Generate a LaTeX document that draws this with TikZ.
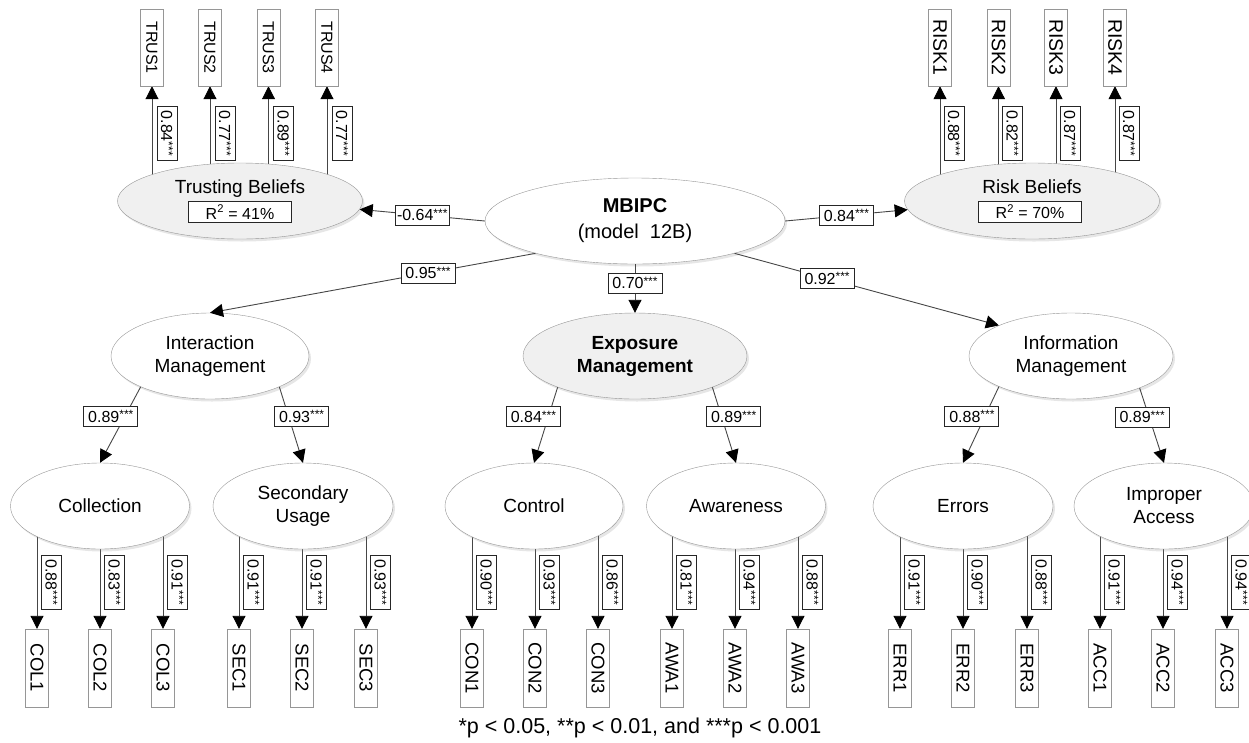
\documentclass[tikz,border=0pt]{standalone}
\usepackage{fontspec}
\setmainfont{Liberation Sans}
\usetikzlibrary{shapes.geometric, arrows.meta, positioning, shadows, backgrounds}
\definecolor{latgray}{RGB}{240,240,240}
\definecolor{edgegray}{RGB}{70,70,70}
\definecolor{boxgray}{RGB}{150,150,150}
\newcommand{\sig}[1]{#1\raisebox{3.5pt}{\fontsize{12}{12}\selectfont ***}}
\newcommand{\vsig}[1]{\rotatebox{-90}{\sig{#1}}}
\newcommand{\vtxt}[1]{\rotatebox{-90}{#1}}

\begin{document}
\begin{tikzpicture}[x=1pt, y=-1pt,
    latent/.style={ellipse, draw=boxgray, fill=white, inner sep=0pt, minimum height=86pt,
                   align=center, font=\fontsize{19}{23}\selectfont,
                   drop shadow={shadow xshift=2pt, shadow yshift=-2.5pt, opacity=0.2}},
    item/.style={rectangle, draw=boxgray, fill=white, inner sep=0pt, minimum width=23pt,
                 minimum height=78pt, font=\fontsize{18.5}{19}\selectfont},
    topitem/.style={item, minimum height=77pt},
    coef/.style={rectangle, draw=black!85, fill=white, inner sep=0pt, minimum width=54pt,
                 minimum height=20pt, font=\fontsize{16}{17}\selectfont},
    vcoef/.style={coef, minimum width=20pt, minimum height=54pt},
    r2box/.style={rectangle, draw=black!85, fill=white, inner sep=0pt, minimum width=103pt,
                  minimum height=21pt, font=\fontsize{16}{17}\selectfont},
    arrow/.style={draw=edgegray, line width=0.9pt, -{Triangle[length=13pt, width=13pt, color=black]}}]

\useasboundingbox (0,0) rectangle (1249,742);

% latent variables
\node (mbipc) [latent, minimum width=300pt, font=\fontsize{20}{26}\selectfont] at (635,221) {\textbf{MBIPC}\\(model\ \ 12B)};
\node (trust) [latent, fill=latgray, minimum width=245pt, minimum height=76pt] at (240,201) {Trusting Beliefs\\[6pt]\mbox{}};
\node (risk)  [latent, fill=latgray, minimum width=255pt, minimum height=76pt] at (1032,201) {Risk Beliefs\\[6pt]\mbox{}};
\node (r2trust) [r2box] at (240,212) {R\textsuperscript{2} = 41\%};
\node (r2risk)  [r2box] at (1030,212) {R\textsuperscript{2} = 70\%};

\node (inter) [latent, minimum width=198pt] at (210,356) {Interaction\\Management};
\node (expo)  [latent, fill=latgray, minimum width=224pt, font=\bfseries\fontsize{19}{23}\selectfont] at (635,356) {Exposure\\Management};
\node (info)  [latent, minimum width=204pt] at (1071,356) {Information\\Management};

\node (coll) [latent, minimum width=179pt] at (100,506)  {Collection};
\node (secu) [latent, minimum width=180pt] at (303,506)  {Secondary\\Usage};
\node (ctrl) [latent, minimum width=178pt] at (534,506)  {Control};
\node (awar) [latent, minimum width=179pt] at (736,506)  {Awareness};
\node (errs) [latent, minimum width=180pt] at (963,506)  {Errors};
\node (impr) [latent, minimum width=180pt] at (1164,506) {Improper\\Access};

% indicators
\node (trus1) [topitem, font=\fontsize{16}{16}\selectfont] at (152,47.5)   {\vtxt{TRUS1}};
\node (trus2) [topitem, font=\fontsize{16}{16}\selectfont] at (210,47.5)   {\vtxt{TRUS2}};
\node (trus3) [topitem, font=\fontsize{16}{16}\selectfont] at (268.5,47.5) {\vtxt{TRUS3}};
\node (trus4) [topitem, font=\fontsize{16}{16}\selectfont] at (327,47.5)   {\vtxt{TRUS4}};
\node (risk1) [topitem, font=\fontsize{19.5}{20}\selectfont] at (940,47.5)   {\vtxt{RISK1}};
\node (risk2) [topitem, font=\fontsize{19.5}{20}\selectfont] at (998.5,47.5) {\vtxt{RISK2}};
\node (risk3) [topitem, font=\fontsize{19.5}{20}\selectfont] at (1056,47.5)  {\vtxt{RISK3}};
\node (risk4) [topitem, font=\fontsize{19.5}{20}\selectfont] at (1115,47.5)  {\vtxt{RISK4}};

\node (col1) [item] at (37,668)   {\vtxt{COL1}};
\node (col2) [item] at (100,668)  {\vtxt{COL2}};
\node (col3) [item] at (163,668)  {\vtxt{COL3}};
\node (sec1) [item] at (239,668)  {\vtxt{SEC1}};
\node (sec2) [item] at (302,668)  {\vtxt{SEC2}};
\node (sec3) [item] at (366,668)  {\vtxt{SEC3}};
\node (con1) [item] at (472,668)  {\vtxt{CON1}};
\node (con2) [item] at (535,668)  {\vtxt{CON2}};
\node (con3) [item] at (598,668)  {\vtxt{CON3}};
\node (awa1) [item] at (672,668)  {\vtxt{AWA1}};
\node (awa2) [item] at (735,668)  {\vtxt{AWA2}};
\node (awa3) [item] at (798,668)  {\vtxt{AWA3}};
\node (err1) [item] at (900,668)  {\vtxt{ERR1}};
\node (err2) [item] at (963,668)  {\vtxt{ERR2}};
\node (err3) [item] at (1027,668) {\vtxt{ERR3}};
\node (acc1) [item] at (1100,668) {\vtxt{ACC1}};
\node (acc2) [item] at (1163,668) {\vtxt{ACC2}};
\node (acc3) [item] at (1227,668) {\vtxt{ACC3}};

\node (note) [font=\fontsize{21.5}{24}\selectfont] at (640,728) {*p < 0.05, **p < 0.01, and ***p < 0.001};

% structural paths
\draw [arrow] (mbipc.west) -- node[coef]{\sig{-0.64}} (trust.-4);
\draw [arrow] (mbipc.east) -- node[coef]{\sig{0.84}} (risk.184);
\draw [arrow] (mbipc.198) -- node[coef, pos=0.33]{\sig{0.95}} (inter.north);
\draw [arrow] (mbipc.south) -- node[coef, pos=0.39]{\sig{0.70}} (expo.north);
\draw [arrow] (mbipc.342) -- node[coef, pos=0.35]{\sig{0.92}} (info.157);

\draw [arrow] (inter.204) -- node[coef, pos=0.39, xshift=-14pt]{\sig{0.89}} (coll.north);
\draw [arrow] (inter.336) -- node[coef, pos=0.39, xshift=13pt]{\sig{0.93}} (secu.north);
\draw [arrow] (expo.202) -- node[coef, pos=0.39, xshift=-15pt]{\sig{0.84}} (ctrl.north);
\draw [arrow] (expo.338) -- node[coef, pos=0.39, xshift=12pt]{\sig{0.89}} (awar.north);
\draw [arrow] (info.203) -- node[coef, pos=0.39, xshift=-13pt]{\sig{0.88}} (errs.north);
\draw [arrow] (info.335) -- node[coef, pos=0.39, xshift=-7pt]{\sig{0.89}} (impr.north);

% measurement paths
\begin{scope}[on background layer]
\draw [arrow] (trust.center -| trus1) -- node[vcoef, pos=0.59, xshift=15pt]{\vsig{0.84}} (trus1);
\draw [arrow] (trust.center -| trus2) -- node[vcoef, pos=0.59, xshift=15pt]{\vsig{0.77}} (trus2);
\draw [arrow] (trust.center -| trus3) -- node[vcoef, pos=0.59, xshift=15pt]{\vsig{0.89}} (trus3);
\draw [arrow] (trust.center -| trus4) -- node[vcoef, pos=0.59, xshift=15pt]{\vsig{0.77}} (trus4);
\draw [arrow] (risk.center -| risk1) -- node[vcoef, pos=0.59, xshift=14pt]{\vsig{0.88}} (risk1);
\draw [arrow] (risk.center -| risk2) -- node[vcoef, pos=0.59, xshift=14pt]{\vsig{0.82}} (risk2);
\draw [arrow] (risk.center -| risk3) -- node[vcoef, pos=0.59, xshift=14pt]{\vsig{0.87}} (risk3);
\draw [arrow] (risk.center -| risk4) -- node[vcoef, pos=0.59, xshift=14pt]{\vsig{0.87}} (risk4);

\draw [arrow] (coll.center -| col1) -- node[vcoef, pos=0.62, xshift=14.5pt]{\vsig{0.88}} (col1);
\draw [arrow] (coll.center -| col2) -- node[vcoef, pos=0.62, xshift=14.5pt]{\vsig{0.83}} (col2);
\draw [arrow] (coll.center -| col3) -- node[vcoef, pos=0.62, xshift=14.5pt]{\vsig{0.91}} (col3);
\draw [arrow] (secu.center -| sec1) -- node[vcoef, pos=0.62, xshift=14.5pt]{\vsig{0.91}} (sec1);
\draw [arrow] (secu.center -| sec2) -- node[vcoef, pos=0.62, xshift=14.5pt]{\vsig{0.91}} (sec2);
\draw [arrow] (secu.center -| sec3) -- node[vcoef, pos=0.62, xshift=14.5pt]{\vsig{0.93}} (sec3);
\draw [arrow] (ctrl.center -| con1) -- node[vcoef, pos=0.62, xshift=14.5pt]{\vsig{0.90}} (con1);
\draw [arrow] (ctrl.center -| con2) -- node[vcoef, pos=0.62, xshift=14.5pt]{\vsig{0.93}} (con2);
\draw [arrow] (ctrl.center -| con3) -- node[vcoef, pos=0.62, xshift=14.5pt]{\vsig{0.86}} (con3);
\draw [arrow] (awar.center -| awa1) -- node[vcoef, pos=0.62, xshift=14.5pt]{\vsig{0.81}} (awa1);
\draw [arrow] (awar.center -| awa2) -- node[vcoef, pos=0.62, xshift=14.5pt]{\vsig{0.94}} (awa2);
\draw [arrow] (awar.center -| awa3) -- node[vcoef, pos=0.62, xshift=14.5pt]{\vsig{0.88}} (awa3);
\draw [arrow] (errs.center -| err1) -- node[vcoef, pos=0.62, xshift=14.5pt]{\vsig{0.91}} (err1);
\draw [arrow] (errs.center -| err2) -- node[vcoef, pos=0.62, xshift=14.5pt]{\vsig{0.90}} (err2);
\draw [arrow] (errs.center -| err3) -- node[vcoef, pos=0.62, xshift=14.5pt]{\vsig{0.88}} (err3);
\draw [arrow] (impr.center -| acc1) -- node[vcoef, pos=0.62, xshift=14.5pt]{\vsig{0.91}} (acc1);
\draw [arrow] (impr.center -| acc2) -- node[vcoef, pos=0.62, xshift=14.5pt]{\vsig{0.94}} (acc2);
\draw [arrow] (impr.center -| acc3) -- node[vcoef, pos=0.62, xshift=14.5pt]{\vsig{0.94}} (acc3);
\end{scope}
\end{tikzpicture}
\end{document}
